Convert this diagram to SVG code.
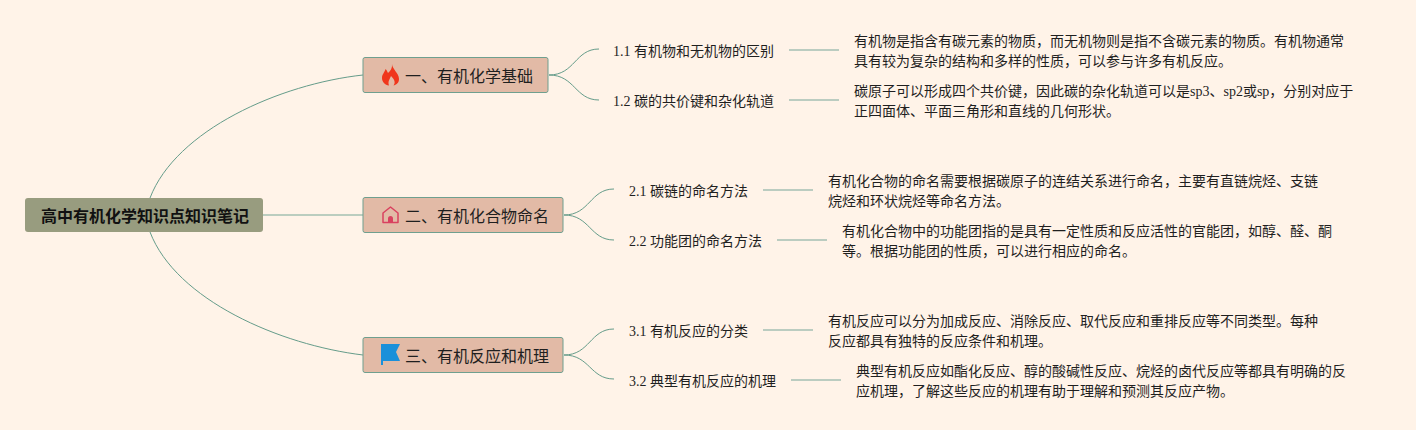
<svg xmlns="http://www.w3.org/2000/svg" width="1416" height="430" viewBox="0 0 1416 430">
<style>
text{font-family:"Liberation Serif","Noto Sans CJK SC",serif;fill:#1f1f1f;white-space:pre}
.t{font-size:14px}
.h{font-size:16px}
.r{font-size:16px;font-weight:bold;fill:#111}
.box{fill:#e2baa6;stroke:#6f9f8f;stroke-width:1}
.c{fill:none;stroke:#659c8a;stroke-width:1}
.s{fill:none;stroke:#a5c0b2;stroke-width:1.5}
</style>
<rect width="1416" height="430" fill="#fff3e8"/>
<g id="connectors">
<path class="c" d="M150 198C176 130 280 84 363 75"/>
<path class="c" d="M150 232C176 300 280 345 363 355"/>
<path class="s" d="M263 215H363"/>
<path class="c" d="M549 75C575 75 575 49 599 49"/>
<path class="c" d="M549 75C575 75 575 100 599 100"/>
<path class="c" d="M564 215C590 215 590 189 614 189"/>
<path class="c" d="M564 215C590 215 590 240 614 240"/>
<path class="c" d="M564 355C590 355 590 329 614 329"/>
<path class="c" d="M564 355C590 355 590 379 614 379"/>
<path class="s" d="M789 50H839M789 100H839M763 190H813M777 240H827M763 330H813M791 380H841"/>
</g>
<g id="root"><rect x="25" y="198" width="238" height="34" rx="3" fill="#989c7f"/><text class="r" x="41" y="222">高中有机化学知识点知识笔记</text></g>
<g id="n1"><rect class="box" x="363" y="57.500" width="185" height="35" rx="2"/>
<path d="M392 64C392 69 399 73 399 79C399 83 396 85 393.500 85.500C395.500 83 395 80 391 76C390 79 387.500 81 389 85.500C385 85 382 82 382 78C382 74 385 72 385.500 69C387 70.500 387.500 72 388 73C390.500 71 392.500 68 392 64Z" fill="#f0361c"/>
<text class="h" x="405" y="82">一、有机化学基础</text></g>
<g id="n2"><rect class="box" x="363" y="197.500" width="200" height="35" rx="2"/>
<path d="M383 213L390.500 207L398 213V222.500H383Z" fill="none" stroke="#d9415f" stroke-width="1.500" stroke-linejoin="round"/><path d="M388 223V218.500A2.500 2.500 0 0 1 393 218.500V223Z" fill="#d9415f"/>
<text class="h" x="405" y="222">二、有机化合物命名</text></g>
<g id="n3"><rect class="box" x="363" y="337.500" width="200" height="35" rx="2"/>
<path d="M381 344H400L396 352L400 361H383V365H381Z" fill="#1a90da"/>
<text class="h" x="405" y="362">三、有机反应和机理</text></g>
<g id="n11"><text class="t" x="613" y="56">1.1 有机物和无机物的区别</text></g>
<g id="n12"><text class="t" x="613" y="106">1.2 碳的共价键和杂化轨道</text></g>
<g id="n21"><text class="t" x="629" y="196">2.1 碳链的命名方法</text></g>
<g id="n22"><text class="t" x="629" y="246">2.2 功能团的命名方法</text></g>
<g id="n31"><text class="t" x="629" y="336">3.1 有机反应的分类</text></g>
<g id="n32"><text class="t" x="629" y="386">3.2 典型有机反应的机理</text></g>
<g id="d11"><text class="t" x="854" y="46">有机物是指含有碳元素的物质，而无机物则是指不含碳元素的物质。有机物通常</text><text class="t" x="854" y="66">具有较为复杂的结构和多样的性质，可以参与许多有机反应。</text></g>
<g id="d12"><text class="t" x="854" y="96">碳原子可以形成四个共价键，因此碳的杂化轨道可以是sp3、sp2或sp，分别对应于</text><text class="t" x="854" y="116">正四面体、平面三角形和直线的几何形状。</text></g>
<g id="d21"><text class="t" x="828" y="186">有机化合物的命名需要根据碳原子的连结关系进行命名，主要有直链烷烃、支链</text><text class="t" x="828" y="206">烷烃和环状烷烃等命名方法。</text></g>
<g id="d22"><text class="t" x="842" y="236">有机化合物中的功能团指的是具有一定性质和反应活性的官能团，如醇、醛、酮</text><text class="t" x="842" y="256">等。根据功能团的性质，可以进行相应的命名。</text></g>
<g id="d31"><text class="t" x="828" y="326">有机反应可以分为加成反应、消除反应、取代反应和重排反应等不同类型。每种</text><text class="t" x="828" y="346">反应都具有独特的反应条件和机理。</text></g>
<g id="d32"><text class="t" x="856" y="376">典型有机反应如酯化反应、醇的酸碱性反应、烷烃的卤代反应等都具有明确的反</text><text class="t" x="856" y="396">应机理，了解这些反应的机理有助于理解和预测其反应产物。</text></g>
</svg>
